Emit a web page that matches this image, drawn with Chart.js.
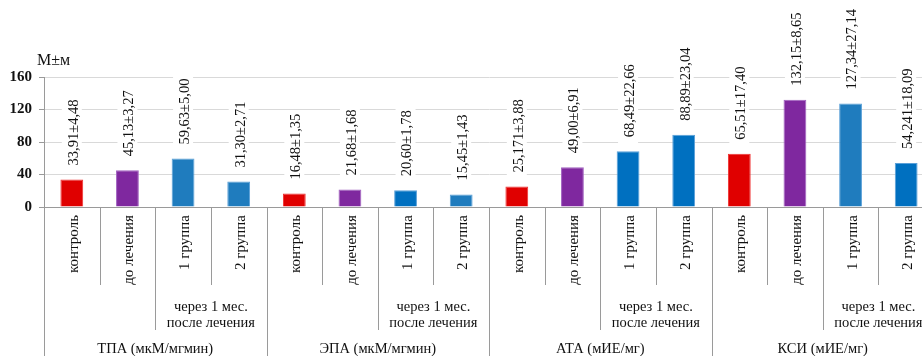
<!DOCTYPE html>
<html lang="ru">
<head>
<meta charset="utf-8">
<title>Показатели активности</title>
<script src="https://cdn.jsdelivr.net/npm/chart.js@4/dist/chart.umd.min.js"></script>
<style>
  html, body { margin: 0; padding: 0; background: #fff; overflow: hidden; }
  #wrap { position: absolute; left: 0; top: 0; width: 934px; height: 356px; }
</style>
</head>
<body>
<div id="wrap"><canvas id="chart"></canvas></div>
<script>
// Indicator groups (bottom level) and subgroup captions
const groupNames = ['ТПА (мкМ/мгмин)', 'ЭПА (мкМ/мгмин)', 'АТА (мИЕ/мг)', 'КСИ (мИЕ/мг)'];
const subLabels = ['контроль', 'до лечения', '1 группа', '2 группа'];
const periodLines = ['через 1 мес.', 'после лечения'];

// M ± m for every bar, written as printed
const means = ['33,91', '45,13', '59,63', '31,30',
               '16,48', '21,68', '20,60', '15,45',
               '25,171', '49,00', '68,49', '88,89',
               '65,51', '132,15', '127,34', '54,241'];
const errors = ['4,48', '3,27', '5,00', '2,71',
                '1,35', '1,68', '1,78', '1,43',
                '3,88', '6,91', '22,66', '23,04',
                '17,40', '8,65', '27,14', '18,09'];

const yTicks = [0, 40, 80, 120, 160];

// bar fills
const RED = '#e00000', PURPLE = '#7f289f', BLUE_L = '#1f7cbe', BLUE_D = '#0070c0';
const barColors = [RED, PURPLE, BLUE_L, BLUE_L,
                   RED, PURPLE, BLUE_D, BLUE_L,
                   RED, PURPLE, BLUE_D, BLUE_D,
                   RED, PURPLE, BLUE_L, BLUE_D];
const barBorders = barColors.map(c => c === RED ? '#f03030' : c === PURPLE ? '#a060c0' : '#5aa0d8');

const SERIF = "'Liberation Serif', 'Times New Roman', serif";
const AXIS_GRAY = '#9a9a9a';

const labels = [];
groupNames.forEach(() => subLabels.forEach(s => labels.push(s)));
const values = means.map(s => parseFloat(s.replace(',', '.')));

// value captions above the bars, rotated, on a white plate
const valueLabels = {
  id: 'valueLabels',
  afterDatasetsDraw(chart) {
    const ctx = chart.ctx;
    const meta = chart.getDatasetMeta(0);
    ctx.save();
    ctx.font = '14.5px ' + SERIF;
    meta.data.forEach((bar, i) => {
      const text = means[i] + '±' + errors[i];
      const w = ctx.measureText(text).width;
      const start = bar.y - 14;
      ctx.fillStyle = '#fff';
      ctx.fillRect(bar.x - 10, start - w - 3, 20, w + 9);
      ctx.save();
      ctx.translate(bar.x + 1, start);
      ctx.rotate(-Math.PI / 2);
      ctx.fillStyle = '#111';
      ctx.textAlign = 'left';
      ctx.textBaseline = 'middle';
      ctx.fillText(text, 0, 1);
      ctx.restore();
    });
    ctx.restore();
  }
};

// multi-level category axis: separators, period and group captions, axis title
const categoryFrame = {
  id: 'categoryFrame',
  afterDraw(chart) {
    const ctx = chart.ctx;
    const area = chart.chartArea;
    const n = labels.length;
    const cw = (area.right - area.left) / n;
    const bottom = chart.height;
    ctx.save();
    ctx.strokeStyle = AXIS_GRAY;
    ctx.lineWidth = 1;
    for (let i = 0; i <= n; i++) {
      const x = Math.round(area.left + i * cw) + 0.5;
      let yEnd;
      if (i % 4 === 0) yEnd = bottom;
      else if (i % 4 === 2) yEnd = area.bottom + 123;
      else yEnd = area.bottom + 78;
      ctx.beginPath();
      ctx.moveTo(x, area.bottom);
      ctx.lineTo(x, yEnd);
      ctx.stroke();
    }
    ctx.fillStyle = '#111';
    ctx.textAlign = 'center';
    ctx.textBaseline = 'alphabetic';
    ctx.font = '14.5px ' + SERIF;
    groupNames.forEach((g, gi) => {
      const xb = area.left + (gi * 4 + 3) * cw;
      ctx.fillText(periodLines[0], xb, area.bottom + 104);
      ctx.fillText(periodLines[1], xb, area.bottom + 120);
    });
    groupNames.forEach((g, gi) => {
      const xc = area.left + (gi * 4 + 2) * cw;
      ctx.fillText(g, xc, area.bottom + 146);
    });
    // axis title
    ctx.textAlign = 'left';
    ctx.font = '16px ' + SERIF;
    ctx.fillText('М±м', 37, 65);
    ctx.restore();
  }
};

new Chart(document.getElementById('chart'), {
  type: 'bar',
  data: {
    labels: labels,
    datasets: [{
      data: values,
      backgroundColor: barColors,
      borderColor: barBorders,
      borderWidth: 1,
      categoryPercentage: 1,
      barPercentage: 0.41
    }]
  },
  options: {
    responsive: true,
    maintainAspectRatio: false,
    animation: false,
    events: [],
    layout: { padding: { top: 77, right: 0, bottom: 0, left: 0 } },
    plugins: { legend: { display: false }, tooltip: { enabled: false } },
    scales: {
      x: {
        grid: { display: false, drawTicks: false },
        border: { display: true, color: AXIS_GRAY },
        ticks: {
          minRotation: 90, maxRotation: 90, autoSkip: false,
          padding: 8, labelOffset: 2, color: '#111',
          font: { family: SERIF, size: 15 }
        },
        afterFit(scale) { scale.height = 149; }
      },
      y: {
        min: 0, max: 160,
        afterBuildTicks(scale) { scale.ticks = yTicks.map(v => ({ value: v })); },
        grid: { color: '#d9d9d9', tickColor: AXIS_GRAY, tickLength: 5 },
        border: { display: true, color: AXIS_GRAY },
        ticks: {
          padding: 7, color: '#111',
          font: { family: SERIF, size: 15, weight: 'bold' }
        },
        afterFit(scale) { scale.width = 44; }
      }
    }
  },
  plugins: [valueLabels, categoryFrame]
});
</script>
</body>
</html>
